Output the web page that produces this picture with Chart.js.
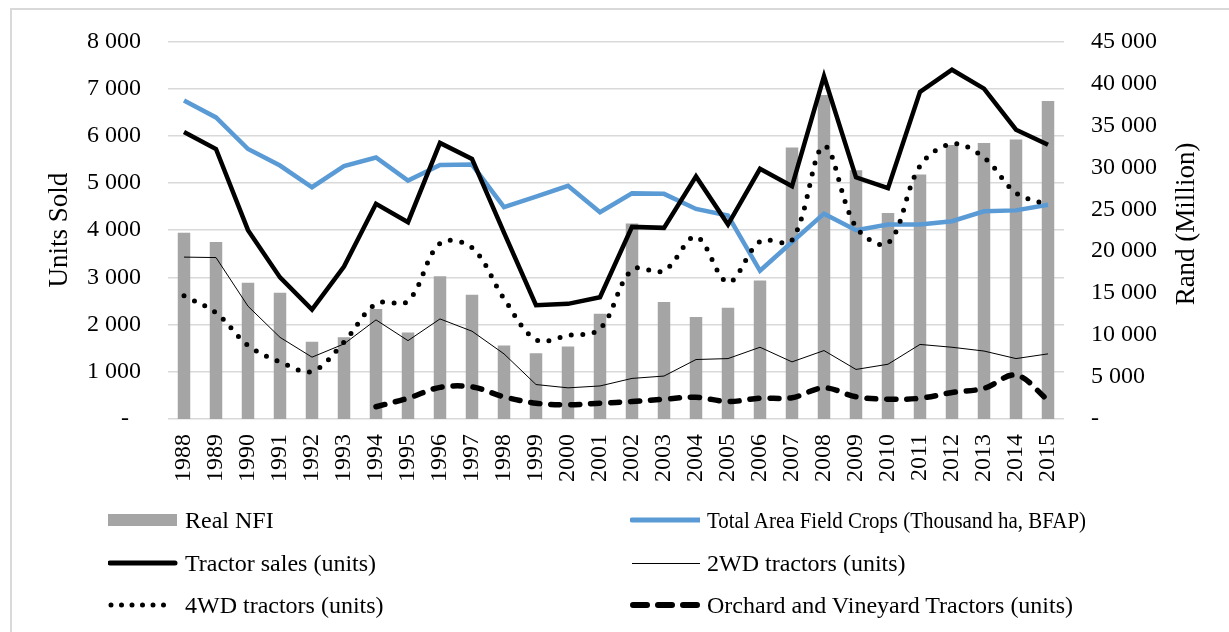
<!DOCTYPE html>
<html>
<head>
<meta charset="utf-8">
<script src="https://cdn.jsdelivr.net/npm/chart.js@4"></script>
<style>
  body { margin: 0; background: #fff; }
  #wrap { position: relative; width: 1229px; height: 632px; overflow: hidden; }
  #frame { position: absolute; left: 10px; top: 8px; width: 1400px; height: 800px;
           border-left: 2px solid #d9d9d9; border-top: 2px solid #d9d9d9; }
  canvas { position: absolute; left: 0; top: 0; }
  .item { position: absolute; height: 30px; display: flex; align-items: center;
          font-family: "Liberation Serif", "Times New Roman", serif; font-size: 24px; color: #000; white-space: nowrap; }
  .item svg { margin-right: 7px; }
  .item span { display: inline-block; transform-origin: left center; }
</style>
</head>
<body>
<div id="wrap">
  <div id="frame"></div>
  <canvas id="chart" width="1229" height="632"></canvas>
  <div id="legend"></div>
</div>
<script>
// Years on the x axis
const years = ['1988','1989','1990','1991','1992','1993','1994','1995','1996','1997','1998','1999','2000','2001',
               '2002','2003','2004','2005','2006','2007','2008','2009','2010','2011','2012','2013','2014','2015'];

// Right axis (Rand million)
const realNFI = [22200, 21100, 16250, 15050, 9200, 9750, 13100, 10300, 17000, 14800, 8750, 7850, 8650, 12550,
                 23300, 13950, 12150, 13250, 16500, 32350, 38600, 29650, 24550, 29150, 32650, 32900, 33300, 37900];

// Left axis (units / thousand ha)
const fieldCrops = [6750, 6390, 5720, 5370, 4910, 5360, 5540, 5050, 5380, 5390, 4490, 4710, 4940, 4380,
                    4780, 4770, 4450, 4310, 3140, 3750, 4350, 4000, 4120, 4120, 4190, 4400, 4420, 4540];
const tractorSales = [6080, 5720, 4000, 3000, 2320, 3230, 4560, 4170, 5850, 5510, 3950, 2410, 2440, 2580,
                      4070, 4050, 5140, 4120, 5300, 4930, 7260, 5120, 4890, 6930, 7400, 7000, 6130, 5810];
const twoWD = [3430, 3420, 2390, 1730, 1310, 1590, 2100, 1660, 2120, 1860, 1380, 730, 660, 700,
               860, 910, 1260, 1280, 1520, 1210, 1450, 1050, 1160, 1580, 1520, 1440, 1280, 1380];
const fourWD = [2610, 2250, 1560, 1210, 1010, 1630, 2440, 2500, 3720, 3630, 2550, 1680, 1770, 1910,
                3160, 3140, 3860, 2900, 3760, 3790, 5780, 4070, 3720, 5360, 5830, 5540, 4790, 4540];
const orchard = [null, null, null, null, null, null, 260, 440, 670, 680, 470, 335, 300, 335,
                 370, 420, 460, 370, 440, 450, 660, 470, 420, 440, 560, 650, 930, 400];

const serif = '"Liberation Serif", "Times New Roman", serif';

function spaced(v) {
    return String(v).replace(/\B(?=(\d{3})+(?!\d))/g, ' ');
}

// right axis title reads bottom to top, like the left one
const rightTitle = {
    id: 'rightTitle',
    afterDraw(chart) {
        const ctx = chart.ctx;
        ctx.save();
        ctx.translate(1187, 224);
        ctx.rotate(-Math.PI / 2);
        ctx.font = '27px ' + serif;
        ctx.fillStyle = '#000';
        ctx.textAlign = 'center';
        ctx.textBaseline = 'middle';
        ctx.fillText('Rand (Million)', 0, 0);
        ctx.restore();
    }
};

new Chart(document.getElementById('chart').getContext('2d'), {
    data: {
        labels: years,
        datasets: [
            { type: 'bar', label: 'Real NFI', data: realNFI, yAxisID: 'y1', backgroundColor: '#a5a5a5',
              barPercentage: 0.39, categoryPercentage: 1, order: 10 },
            { type: 'line', label: 'Total Area Field Crops (Thousand ha, BFAP)', data: fieldCrops, yAxisID: 'y',
              borderColor: '#5b9bd5', borderWidth: 4.5, pointRadius: 0, tension: 0, order: 6 },
            { type: 'line', label: 'Tractor sales (units)', data: tractorSales, yAxisID: 'y',
              borderColor: '#000', borderWidth: 4.5, pointRadius: 0, tension: 0, order: 1 },
            { type: 'line', label: '2WD tractors (units)', data: twoWD, yAxisID: 'y',
              borderColor: '#000', borderWidth: 1, pointRadius: 0, tension: 0, order: 3 },
            { type: 'line', label: '4WD tractors (units)', data: fourWD, yAxisID: 'y',
              borderColor: '#000', borderWidth: 5, borderDash: [0, 11.5], borderCapStyle: 'round',
              pointRadius: 0, tension: 0.35, order: 2 },
            { type: 'line', label: 'Orchard and Vineyard Tractors (units)', data: orchard, yAxisID: 'y',
              borderColor: '#000', borderWidth: 5.5, borderDash: [9, 11], borderCapStyle: 'round',
              pointRadius: 0, tension: 0.35, order: 4 }
        ]
    },
    options: {
        responsive: false,
        animation: false,
        devicePixelRatio: 1,
        layout: { padding: { left: 44, right: 0, top: 37, bottom: 143 } },
        plugins: { legend: { display: false }, tooltip: { enabled: false } },
        scales: {
            x: {
                grid: { display: false, drawTicks: false },
                border: { display: false },
                ticks: { color: '#000', font: { family: serif, size: 24 }, maxRotation: 90, minRotation: 90,
                         padding: 15, autoSkip: false },
                afterFit(s) { s.height = 70; }
            },
            y: {
                position: 'left', min: 0, max: 8000,
                grid: { color: '#d9d9d9', lineWidth: 1.5, drawTicks: false },
                border: { display: false },
                ticks: { stepSize: 1000, color: '#000', font: { family: serif, size: 24 }, padding: 27,
                         callback: v => v === 0 ? '-\u2002' : spaced(v) },
                title: { display: true, text: 'Units Sold', color: '#000', font: { family: serif, size: 27 },
                         padding: 0 },
                afterFit(s) { s.width = 124; }
            },
            y1: {
                position: 'right', min: 0, max: 45000,
                grid: { display: false, drawTicks: false },
                border: { display: false },
                ticks: { stepSize: 5000, color: '#000', font: { family: serif, size: 24 }, padding: 27,
                         callback: v => v === 0 ? '-' : spaced(v) },
                afterFit(s) { s.width = 165; }
            }
        }
    },
    plugins: [rightTitle]
});

// Legend: two columns, three rows
const legendItems = [
    { text: 'Real NFI', x: 108, y: 520, mark: '<rect x="0" y="9" width="69" height="12" fill="#a5a5a5"/>' },
    { text: 'Total Area Field Crops (Thousand ha, BFAP)', x: 630, y: 520, fit: 379,
      mark: '<line x1="2" y1="15" x2="70" y2="15" stroke="#5b9bd5" stroke-width="5" stroke-linecap="round"/>' },
    { text: 'Tractor sales (units)', x: 108, y: 563,
      mark: '<line x1="2" y1="15" x2="67" y2="15" stroke="#000" stroke-width="5" stroke-linecap="round"/>' },
    { text: '2WD tractors (units)', x: 630, y: 563,
      mark: '<line x1="2" y1="15.5" x2="70" y2="15.5" stroke="#000" stroke-width="1"/>' },
    { text: '4WD tractors (units)', x: 108, y: 605,
      mark: '<line x1="3" y1="15" x2="66" y2="15" stroke="#000" stroke-width="5" stroke-dasharray="0 10.5" stroke-linecap="round"/>' },
    { text: 'Orchard and Vineyard Tractors (units)', x: 630, y: 605,
      mark: '<line x1="3" y1="15" x2="67" y2="15" stroke="#000" stroke-width="6" stroke-dasharray="14 11" stroke-linecap="round"/>' }
];

const legend = document.getElementById('legend');
legendItems.forEach(it => {
    const el = document.createElement('div');
    el.className = 'item';
    el.style.left = it.x + 'px';
    el.style.top = (it.y - 15) + 'px';
    el.innerHTML = '<svg width="70" height="30">' + it.mark + '</svg><span>' + it.text + '</span>';
    legend.appendChild(el);
    // long entry is squeezed in the original
    if (it.fit) {
        const span = el.querySelector('span');
        const w = span.getBoundingClientRect().width;
        span.style.transform = 'scaleX(' + (it.fit / w) + ')';
    }
});
</script>
</body>
</html>
